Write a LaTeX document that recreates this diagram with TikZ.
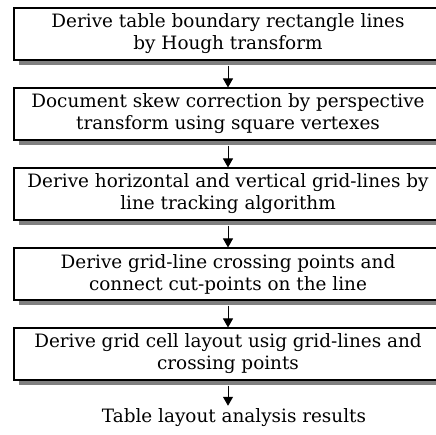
\documentclass[tikz,border=0pt]{standalone}
\usepackage{fontspec}
\setmainfont{DejaVu Serif}
\usetikzlibrary{arrows.meta,shadows}

\begin{document}
\begin{tikzpicture}[x=1pt,y=-1pt]
		\tikzstyle{every node}+=[inner sep=0pt]
		\tikzstyle{stepbox}=[draw=black, line width=1.1pt, fill=white, minimum width=428pt, minimum height=52pt, align=center, font=\fontsize{18.4}{22}\selectfont, drop shadow={shadow xshift=5pt, shadow yshift=-5pt, fill=black!50, opacity=1}]
		\tikzstyle{flow}=[line width=1pt, -{Triangle[width=10pt,length=9pt]}]
		\useasboundingbox (0,0) rectangle (435,435);
		\fill [white] (0,0) rectangle (435,435);
		\node [stepbox] (hough) at (228,34) {Derive table boundary rectangle lines\\by Hough transform};
		\node [stepbox] (skew) at (228,114) {Document skew correction by perspective\\transform using square vertexes};
		\node [stepbox] (track) at (228,194) {Derive horizontal and vertical grid-lines by\\line tracking algorithm};
		\node [stepbox] (cross) at (228,274) {Derive grid-line crossing points and\\connect cut-points on the line};
		\node [stepbox] (cell) at (228,354) {Derive grid cell layout usig grid-lines and\\crossing points};
		\node [font=\fontsize{18.4}{22}\selectfont] (result) at (234,418) {Table layout analysis results};
		\draw [flow] ([yshift=-5pt]hough.south) -- (skew.north);
		\draw [flow] ([yshift=-5pt]skew.south) -- (track.north);
		\draw [flow] ([yshift=-5pt]track.south) -- (cross.north);
		\draw [flow] ([yshift=-5pt]cross.south) -- (cell.north);
		\draw [flow] ([yshift=-5pt]cell.south) -- ([xshift=-6pt,yshift=3pt]result.north);
		\end{tikzpicture}
\end{document}
